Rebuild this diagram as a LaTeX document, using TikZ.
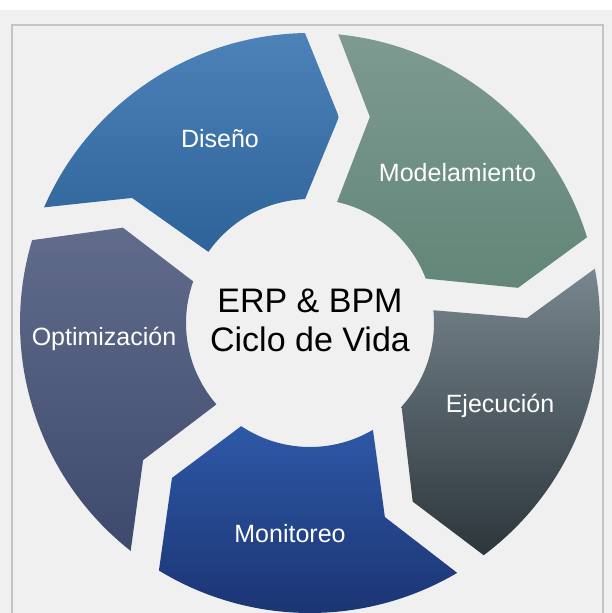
\documentclass[tikz,border=0pt]{standalone}
\usepackage{fontspec}
\setsansfont{Liberation Sans}
\definecolor{bggray}{HTML}{F0F0F0}
\definecolor{framegray}{HTML}{C4C4C4}
\definecolor{disTop}{HTML}{4C82B8}
\definecolor{disBot}{HTML}{2E6399}
\definecolor{modTop}{HTML}{7E9A92}
\definecolor{modBot}{HTML}{628678}
\definecolor{ejeTop}{HTML}{78868F}
\definecolor{ejeBot}{HTML}{2C363B}
\definecolor{monTop}{HTML}{2E58A6}
\definecolor{monBot}{HTML}{1A3270}
\definecolor{optTop}{HTML}{616C8C}
\definecolor{optBot}{HTML}{3E4A6C}
\begin{document}
\begin{tikzpicture}[x=1pt,y=1pt,font=\sffamily,
  lbl/.style={text=white, font=\sffamily\fontsize{25}{29}\selectfont, anchor=base},
  hub/.style={text=black, align=center, font=\sffamily\fontsize{34}{39}\selectfont}]
\useasboundingbox (0,0) rectangle (612,613);
\fill[white] (0,0) rectangle (612,613);
\fill[bggray] (0,0) rectangle (612,603);
\draw[framegray, line width=1.2pt] (12,0) -- (12,588) -- (603,588) -- (603,0);

\begin{scope}[shift={(310,290)}]
% five chevrons, clockwise
\shade[top color=disTop, bottom color=disBot] (156.5:290) arc[start angle=156.5, end angle=91, radius=290] -- (82:208) -- (92.3:124) arc[start angle=92.3, end angle=145, radius=124] -- (144.9:217.5) -- cycle;
\shade[top color=modTop, bottom color=modBot] (84.4:290) arc[start angle=84.4, end angle=17.2, radius=290] -- (9.6:211) -- (21:124) arc[start angle=21, end angle=77.4, radius=124] -- (73.8:214.6) -- cycle;
\shade[top color=ejeTop, bottom color=ejeBot] (10.8:290) arc[start angle=10.8, end angle=-53.2, radius=290] -- (-60.1:206) -- (-42.4:124) arc[start angle=-42.4, end angle=5.9, radius=124] -- (1.3:217) -- cycle;
\shade[top color=monTop, bottom color=monBot] (-59.5:290) arc[start angle=-59.5, end angle=-121.4, radius=290] -- (-131.7:207.5) -- (-123.7:124) arc[start angle=-123.7, end angle=-59.5, radius=124] -- (-68.9:208) -- cycle;
\shade[top color=optTop, bottom color=optBot] (-128.2:290) arc[start angle=-128.2, end angle=-196.6, radius=290] -- (-207:210) -- (-199.6:124) arc[start angle=-199.6, end angle=-139, radius=124] -- (-140.6:216) -- cycle;
\end{scope}

\node[lbl] (diseno) at (220,465.5) {Diseño};
\node[lbl] (modelo) at (457.5,431.5) {Modelamiento};
\node[lbl] (ejecu) at (500,200.5) {Ejecución};
\node[lbl] (monit) at (290,70.5) {Monitoreo};
\node[lbl] (optim) at (104,267.5) {Optimización};
\node[hub] (ciclo) at (310,293) {ERP \& BPM\\Ciclo de Vida};

\end{tikzpicture}
\end{document}
